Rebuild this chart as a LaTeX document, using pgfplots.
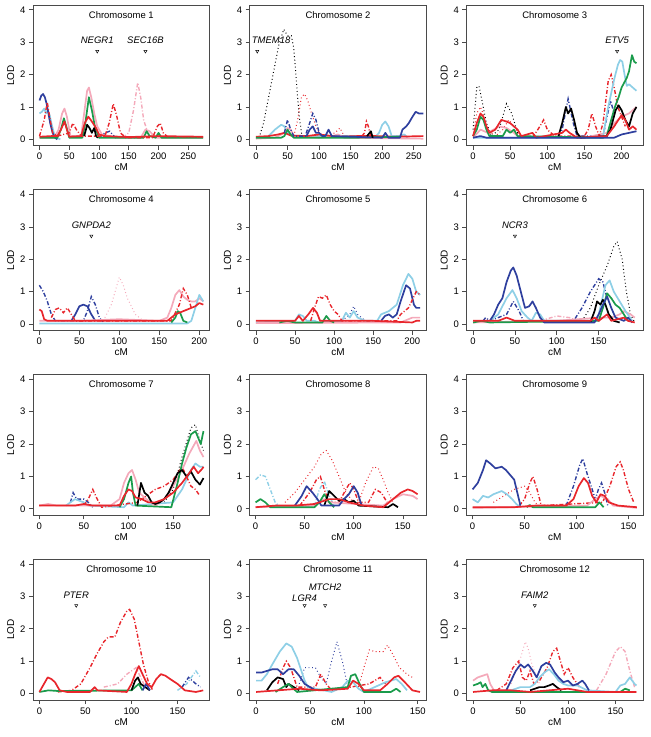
\documentclass[border=0pt]{standalone}
\usepackage{pgfplots}
\pgfplotsset{compat=1.18}
\usepgfplotslibrary{groupplots}
\usepackage{fontspec}
\setmainfont{Liberation Sans}
\definecolor{cdb}{HTML}{2E3F9E}
\definecolor{clb}{HTML}{8ECFE6}
\definecolor{cgr}{HTML}{1A9B4B}
\definecolor{crd}{HTML}{E8262C}
\definecolor{cpk}{HTML}{F4A9BA}
\definecolor{frame}{HTML}{4A4A4A}
\pgfplotsset{
  sol/.style={line width=1.7pt, line join=round},
  dd/.style={line width=1.4pt, dash pattern=on 4pt off 2pt on 1pt off 2pt},
  dt/.style={line width=1pt, dash pattern=on 0.9pt off 2.6pt},
  gene/.style={only marks, mark=triangle, mark size=1.8pt, mark options={rotate=180, black, line width=0.45pt}},
}
\newcommand{\chr}[1]{\node[font=\fontsize{9.5}{10}\selectfont] at (rel axis cs:0.5,0.93) {Chromosome #1};}
\newcommand{\gn}[3]{\node[font=\fontsize{9.5}{10}\selectfont\itshape] at (axis cs:#1,#2) {#3};}
\begin{document}
\begin{tikzpicture}
\begin{groupplot}[
  group style={group size=3 by 4, horizontal sep=40pt, vertical sep=44pt, group name=G},
  width=177pt, height=141pt, scale only axis,
  ymin=-0.2, ymax=4.15, ytick={0,1,2,3,4},
  xtick pos=lower, ytick pos=left, tick align=outside,
  major tick length=4pt,
  axis line style={frame, line width=0.8pt},
  every tick/.style={frame, line width=0.7pt},
  tick label style={font=\fontsize{9.5}{10}\selectfont},
  /pgf/number format/assume math mode=true,
  label style={font=\fontsize{10}{11}\selectfont},
  xlabel={cM}, ylabel={LOD},
  xlabel style={yshift=3pt},
  ylabel style={yshift=-1pt},
]
% ---- Chromosome 1
\nextgroupplot[xmin=-11, xmax=286, xtick={0,50,...,250}]
\chr{1}
\addplot[dd, cpk] coordinates {(140,0.05)(150,0.2)(158,0.9)(165,1.75)(170,1.3)(175,0.6)(182,0.2)(190,0.05)};
\addplot[sol, cpk] coordinates {(0,0.05)(25,0.05)(32,0.3)(38,0.8)(42,0.95)(46,0.7)(52,0.1)(70,0.1)(75,0.8)(80,1.5)(83,1.6)(87,1.3)(92,0.8)(97,0.4)(105,0.15)(130,0.05)(170,0.05)(178,0.3)(185,0.25)(195,0.05)(275,0.05)};
\addplot[sol, clb] coordinates {(0,0.8)(4,0.85)(8,0.95)(11,0.8)(14,0.9)(17,0.75)(20,0.5)(24,0.2)(28,0.05)(35,0)};
\addplot[sol, cdb] coordinates {(0,1.2)(3,1.35)(6,1.4)(9,1.3)(12,1.1)(15,0.8)(18,0.5)(22,0.2)(26,0.05)(30,0)};
\addplot[dd, cdb] coordinates {(100,0.05)(110,0.2)(118,0.25)(125,0.1)(130,0.02)};
\addplot[sol, cgr] coordinates {(0,0.05)(30,0.05)(36,0.3)(41,0.65)(45,0.4)(50,0.05)(72,0.05)(77,0.5)(83,1.3)(88,0.9)(93,0.4)(100,0.05)(175,0.05)(180,0.25)(185,0.1)(195,0.05)(200,0.2)(205,0.05)(275,0.05)};
\addplot[sol, black] coordinates {(75,0.1)(78,0.3)(80,0.45)(84,0.35)(88,0.2)(92,0.35)(95,0.1)(98,0.05)};
\addplot[dd, crd] coordinates {(0,0.1)(8,0.6)(13,1.15)(17,0.7)(22,0.2)(30,0.1)(50,0.2)(56,0.5)(62,0.3)(70,0.1)(110,0.1)(117,0.5)(124,1.1)(130,0.7)(136,0.2)(145,0.05)(190,0.05)(198,0.4)(203,0.5)(208,0.2)(215,0.08)(275,0.08)};
\addplot[sol, crd] coordinates {(0,0.08)(20,0.1)(30,0.1)(36,0.3)(42,0.55)(46,0.3)(50,0.08)(70,0.1)(76,0.5)(82,0.7)(88,0.55)(95,0.35)(100,0.15)(110,0.1)(150,0.07)(200,0.1)(275,0.08)};
\addplot[gene] coordinates {(97,2.72)(178,2.72)};
\gn{97}{3.05}{NEGR1}
\gn{178}{3.05}{SEC16B}
% ---- Chromosome 2
\nextgroupplot[xmin=-10, xmax=270, xtick={0,50,...,250}]
\chr{2}
\addplot[dt, black] coordinates {(5,0.05)(12,0.5)(20,1.3)(28,2.1)(36,2.9)(44,3.4)(50,3.2)(56,3.2)(60,2.8)(64,1.8)(68,0.8)(72,0.2)(78,0.05)};
\addplot[dt, crd] coordinates {(60,0.1)(66,0.6)(72,1.3)(77,1.4)(82,1.2)(88,0.8)(95,0.4)(100,0.2)(110,0.1)(125,0.2)(133,0.35)(140,0.1)};
\addplot[sol, clb] coordinates {(20,0.1)(30,0.3)(40,0.45)(45,0.4)(50,0.2)(60,0.1)(190,0.1)(195,0.2)(200,0.45)(205,0.55)(210,0.4)(215,0.1)(225,0.1)(235,0.15)(240,0.05)};
\addplot[sol, cpk] coordinates {(0,0.02)(30,0.05)(45,0.2)(50,0.35)(55,0.3)(60,0.1)(100,0.05)(120,0.1)(130,0.15)(140,0.05)(265,0.02)};
\addplot[sol, crd] coordinates {(0,0.08)(20,0.1)(35,0.15)(45,0.2)(55,0.12)(80,0.1)(100,0.15)(130,0.08)(160,0.1)(190,0.1)(220,0.08)(265,0.1)};
\addplot[sol, cgr] coordinates {(0,0.05)(40,0.05)(45,0.1)(50,0.3)(55,0.15)(60,0.05)(160,0.05)(230,0.08)};
\addplot[dd, cdb] coordinates {(45,0.2)(50,0.6)(55,0.3)(60,0.1)(78,0.1)(85,0.5)(90,0.8)(95,0.6)(100,0.2)};
\addplot[sol, cdb] coordinates {(80,0.1)(85,0.3)(90,0.4)(95,0.2)(100,0.2)(105,0.1)(110,0.1)(115,0.3)(120,0.1)(200,0.05)(205,0.2)(210,0.05)(228,0.05)(232,0.3)(238,0.4)(242,0.5)(248,0.7)(253,0.85)(258,0.8)(265,0.8)};
\addplot[dd, crd] coordinates {(168,0.1)(172,0.2)(175,0.55)(178,0.4)(182,0.1)};
\addplot[sol, black] coordinates {(176,0.1)(180,0.2)(182,0.25)(185,0.05)};
\addplot[gene] coordinates {(2,2.72)};
\gn{24}{3.05}{TMEM18}
% ---- Chromosome 3
\nextgroupplot[xmin=-9, xmax=229, xtick={0,50,...,200}]
\chr{3}
\addplot[dt, black] coordinates {(0,0.3)(5,1.6)(8,1.65)(12,1.2)(18,0.5)(25,0.1)(35,0.3)(45,1.1)(52,0.8)(60,0.2)(65,0.05)};
\addplot[dt, crd] coordinates {(0,0.1)(5,0.8)(10,1.0)(15,0.7)(20,0.3)(30,0.1)(40,0.3)(48,0.6)(55,0.4)(62,0.1)};
\addplot[dd, cdb] coordinates {(115,0.1)(120,0.3)(128,1.25)(135,0.5)(140,0.1)(175,0.1)(185,1.2)(190,0.8)};
\addplot[sol, cpk] coordinates {(0,0.05)(10,0.3)(20,0.2)(35,0.4)(45,0.35)(55,0.2)(60,0.1)(150,0.05)(180,0.2)(190,0.5)(200,0.7)(210,0.8)(220,1.0)};
\addplot[dd, crd] coordinates {(80,0.05)(90,0.4)(95,0.6)(100,0.3)(110,0.1)(150,0.1)(155,0.3)(160,0.8)(165,0.4)(170,0.1)(175,0.5)(182,1.8)(186,2.0)(190,1.6)(195,1.0)(200,0.7)(205,0.4)};
\addplot[sol, clb] coordinates {(0,0.05)(170,0.05)(175,0.1)(182,1.0)(190,1.85)(195,2.3)(198,2.45)(201,2.4)(204,2.0)(207,1.65)(210,1.7)(215,1.6)(220,1.5)};
\addplot[sol, cgr] coordinates {(0,0.1)(5,0.3)(10,0.7)(14,0.6)(18,0.3)(22,0.1)(40,0.1)(45,0.3)(50,0.2)(55,0.3)(60,0.1)(175,0.05)(180,0.1)(186,0.6)(191,1.0)(196,1.3)(200,1.6)(207,1.9)(210,2.1)(214,2.6)(217,2.4)(220,2.35)};
\addplot[sol, black] coordinates {(115,0.1)(120,0.5)(125,1.0)(128,0.8)(132,0.95)(136,0.6)(140,0.2)(145,0.05)(180,0.1)(185,0.3)(192,0.9)(196,1.05)(200,0.9)(205,0.6)(210,0.4)(215,0.8)(220,1.0)};
\addplot[sol, crd] coordinates {(0,0.1)(5,0.5)(10,0.8)(14,0.7)(18,0.4)(22,0.2)(30,0.3)(38,0.6)(45,0.55)(50,0.5)(55,0.4)(60,0.3)(65,0.1)(80,0.2)(85,0.05)(120,0.2)(125,0.3)(130,0.2)(140,0.05)(180,0.1)(190,0.4)(200,0.75)(205,0.6)(210,0.3)(215,0.4)(220,0.3)};
\addplot[sol, cdb] coordinates {(0,0.05)(10,0.1)(18,0.05)(190,0.05)(200,0.15)(210,0.2)(220,0.25)};
\addplot[gene] coordinates {(194,2.72)};
\gn{194}{3.05}{ETV5}
% ---- Chromosome 4
\nextgroupplot[xmin=-8, xmax=213, xtick={0,50,...,200}]
\chr{4}
\addplot[dt, cpk] coordinates {(80,0.1)(90,0.6)(97,1.2)(100,1.45)(105,1.2)(110,0.8)(120,0.3)(130,0.1)};
\addplot[dd, cdb] coordinates {(0,1.2)(5,1.0)(10,0.7)(15,0.3)(20,0.1)(55,0.1)(60,0.4)(65,0.85)(70,0.6)(75,0.2)(80,0.05)};
\addplot[sol, cdb] coordinates {(40,0.1)(45,0.3)(50,0.55)(55,0.6)(60,0.55)(65,0.3)(70,0.1)};
\addplot[sol, cpk] coordinates {(0,0.1)(50,0.1)(100,0.15)(150,0.1)(160,0.2)(165,0.5)(170,0.9)(175,1.05)(180,0.85)(185,0.75)(190,0.7)(195,0.7)(200,0.8)(205,0.7)};
\addplot[sol, clb] coordinates {(0,0.02)(185,0.02)(190,0.1)(195,0.5)(200,0.9)(205,0.7)};
\addplot[dd, crd] coordinates {(15,0.2)(20,0.45)(25,0.5)(30,0.35)(35,0.5)(40,0.3)(45,0.1)(165,0.1)(175,0.6)(180,1.1)(185,0.9)(190,0.5)};
\addplot[sol, cgr] coordinates {(165,0.05)(170,0.2)(173,0.4)(176,0.35)(180,0.1)(185,0.05)};
\addplot[sol, crd] coordinates {(0,0.45)(3,0.4)(6,0.15)(10,0.1)(160,0.1)(165,0.2)(170,0.3)(175,0.35)(180,0.4)(185,0.45)(190,0.5)(195,0.55)(200,0.65)(205,0.6)};
\addplot[gene] coordinates {(65,2.72)};
\gn{65}{3.05}{GNPDA2}
% ---- Chromosome 5
\nextgroupplot[xmin=-8, xmax=218, xtick={0,50,...,200}]
\chr{5}
\addplot[dt, cdb] coordinates {(110,0.1)(120,0.3)(125,0.55)(130,0.3)(140,0.1)};
\addplot[sol, clb] coordinates {(0,0.05)(50,0.1)(55,0.3)(60,0.25)(65,0.1)(75,0.1)(80,0.05)(110,0.1)(115,0.35)(120,0.2)(125,0.4)(130,0.2)(140,0.1)(155,0.1)(160,0.3)(170,0.4)(180,0.6)(188,1.2)(195,1.55)(200,1.4)(205,1.0)(210,0.9)};
\addplot[sol, cdb] coordinates {(160,0.1)(165,0.25)(170,0.3)(175,0.2)(180,0.3)(185,0.7)(192,1.2)(197,1.1)(202,0.6)(205,0.5)(210,0.5)};
\addplot[dd, crd] coordinates {(70,0.1)(75,0.5)(80,0.85)(85,0.8)(90,0.9)(95,0.6)(100,0.4)(105,0.3)(110,0.1)(180,0.1)(185,0.3)(195,0.5)(205,1.0)(210,0.9)};
\addplot[sol, cpk] coordinates {(0,0.03)(185,0.05)(190,0.1)(200,0.2)(210,0.2)};
\addplot[sol, cgr] coordinates {(30,0.05)(40,0.1)(50,0.05)(85,0.05)(90,0.25)(95,0.1)(100,0.05)};
\addplot[sol, crd] coordinates {(0,0.1)(50,0.1)(55,0.25)(60,0.1)(67,0.3)(73,0.5)(78,0.35)(82,0.1)(100,0.1)(150,0.1)(200,0.05)(205,0.1)(210,0.1)};
% ---- Chromosome 6
\nextgroupplot[xmin=-8, xmax=203, xtick={0,50,...,150}]
\chr{6}
\addplot[dt, black] coordinates {(130,0.1)(140,0.5)(150,1.2)(160,1.8)(168,2.4)(172,2.55)(178,2.0)(183,1.0)(188,0.3)(192,0.1)};
\addplot[dd, cpk] coordinates {(80,0.1)(100,0.25)(115,0.2)(125,0.1)};
\addplot[dd, cdb] coordinates {(12,0.1)(15,0.2)(20,0.1)(40,0.3)(48,0.7)(55,0.4)(60,0.1)(120,0.1)(130,0.5)(140,1.0)(145,1.2)(150,1.4)(155,1.3)(160,0.8)};
\addplot[sol, cpk] coordinates {(0,0.05)(100,0.1)(150,0.2)(165,0.2)(175,0.3)(180,0.4)(188,0.3)(193,0.2)};
\addplot[sol, clb] coordinates {(20,0.1)(30,0.3)(40,0.8)(47,1.05)(52,0.8)(58,0.4)(65,0.2)(70,0.1)(75,0.35)(80,0.3)(85,0.1)(145,0.1)(150,0.3)(158,1.2)(163,1.35)(168,1.0)(175,0.7)(182,0.4)(190,0.1)};
\addplot[sol, cgr] coordinates {(0,0.05)(10,0.1)(20,0.05)(150,0.1)(155,0.5)(160,0.95)(165,0.8)(170,0.6)(175,0.5)(180,0.3)(185,0.1)};
\addplot[sol, black] coordinates {(140,0.05)(145,0.4)(148,0.7)(152,0.6)(155,0.75)(158,0.6)(162,0.3)(168,0.1)(175,0.05)};
\addplot[sol, cdb] coordinates {(20,0.1)(25,0.3)(30,0.6)(35,0.8)(40,1.3)(45,1.65)(48,1.75)(52,1.5)(58,0.9)(62,0.5)(67,0.55)(71,0.7)(75,0.5)(80,0.2)(85,0.05)(145,0.05)(150,0.3)(155,0.6)(160,0.85)(165,0.5)(170,0.2)(180,0.1)(185,0.2)(190,0.05)};
\addplot[sol, crd] coordinates {(0,0.1)(30,0.1)(40,0.2)(50,0.1)(140,0.1)(145,0.2)(150,0.1)(160,0.3)(165,0.1)(180,0.2)(185,0.1)(193,0.05)};
\addplot[gene] coordinates {(50,2.72)};
\gn{50}{3.05}{NCR3}
% ---- Chromosome 7
\nextgroupplot[xmin=-7, xmax=191, xtick={0,50,...,150}]
\chr{7}
\addplot[dt, black] coordinates {(140,0.2)(150,0.6)(160,1.6)(170,2.5)(175,2.6)(180,2.1)(184,1.8)};
\addplot[dd, cdb] coordinates {(35,0.2)(38,0.5)(42,0.3)(50,0.3)(55,0.2)(60,0.05)};
\addplot[sol, clb] coordinates {(30,0.1)(40,0.3)(45,0.25)(50,0.2)(55,0.1)(95,0.05)(100,0.2)(105,0.1)(150,0.2)(160,0.6)(170,1.2)(175,1.4)(180,1.3)(184,1.3)};
\addplot[dd, crd] coordinates {(50,0.1)(55,0.3)(60,0.6)(65,0.3)(70,0.05)(110,0.2)(120,0.4)(130,0.6)(140,0.7)(150,0.9)(155,1.1)(160,1.3)(165,1.0)(170,0.7)(175,0.6)(180,0.4)};
\addplot[sol, cpk] coordinates {(0,0.1)(10,0.15)(20,0.1)(80,0.1)(90,0.3)(95,0.8)(100,1.1)(104,1.2)(108,0.9)(112,0.5)(120,0.3)(130,0.1)(140,0.3)(150,0.7)(160,1.2)(168,1.7)(172,1.9)(176,2.1)(180,1.8)(184,1.6)};
\addplot[sol, cgr] coordinates {(90,0.05)(95,0.3)(100,0.8)(103,1.0)(105,0.5)(108,0.1)(148,0.05)(155,0.8)(160,1.4)(165,1.9)(170,2.3)(175,2.4)(178,2.2)(181,2.0)(184,2.4)};
\addplot[sol, black] coordinates {(110,0.1)(114,0.8)(118,0.5)(122,0.4)(126,0.2)(130,0.15)(135,0.2)(140,0.3)(145,0.5)(150,0.8)(155,1.1)(160,1.2)(165,1.0)(170,1.15)(175,0.9)(180,0.75)(184,0.95)};
\addplot[sol, crd] coordinates {(0,0.1)(40,0.1)(50,0.15)(60,0.1)(90,0.1)(95,0.4)(100,0.6)(104,0.55)(108,0.35)(115,0.3)(122,0.2)(130,0.2)(140,0.3)(150,0.5)(160,0.8)(168,1.1)(173,1.3)(178,1.1)(183,1.25)(184,1.3)};
% ---- Chromosome 8
\nextgroupplot[xmin=-6, xmax=174, xtick={0,50,...,150}]
\chr{8}
\addplot[dt, crd] coordinates {(30,0.2)(40,0.5)(50,0.9)(60,1.3)(67,1.7)(72,1.8)(78,1.5)(85,1.0)(92,0.5)(100,0.2)(105,0.2)(112,0.8)(120,1.3)(125,1.25)(130,0.9)(135,0.5)(140,0.2)};
\addplot[dd, clb] coordinates {(0,0.9)(5,1.05)(10,1.0)(15,0.6)(20,0.2)(25,0.05)(60,0.1)(65,0.6)(70,0.85)(75,0.4)(80,0.1)};
\addplot[dd, crd] coordinates {(45,0.1)(55,0.5)(62,0.9)(66,1.0)(70,0.6)(75,0.2)(85,0.2)(92,0.6)(96,0.8)(100,0.6)(105,0.2)(115,0.2)(122,0.6)(128,0.5)(134,0.2)};
\addplot[sol, cpk] coordinates {(0,0.05)(60,0.1)(70,0.3)(75,0.2)(130,0.1)(140,0.3)(150,0.45)(160,0.4)(165,0.3)};
\addplot[sol, cgr] coordinates {(0,0.2)(5,0.3)(10,0.2)(15,0.05)(60,0.05)(65,0.2)(70,0.45)(75,0.2)(80,0.05)};
\addplot[sol, black] coordinates {(70,0.1)(75,0.55)(80,0.4)(85,0.25)(90,0.3)(95,0.2)(100,0.25)(105,0.1)(135,0.05)(140,0.15)(145,0.05)};
\addplot[sol, cdb] coordinates {(40,0.1)(47,0.4)(52,0.7)(58,0.5)(63,0.3)(67,0.1)(85,0.1)(90,0.3)(95,0.45)(100,0.7)(104,0.5)(108,0.1)};
\addplot[sol, crd] coordinates {(0,0.05)(20,0.1)(40,0.1)(60,0.15)(75,0.3)(85,0.3)(95,0.2)(110,0.1)(130,0.05)(140,0.3)(148,0.5)(155,0.6)(160,0.55)(165,0.45)};
% ---- Chromosome 9
\nextgroupplot[xmin=-6, xmax=164, xtick={0,50,...,150}]
\chr{9}
\addplot[dt, crd] coordinates {(20,0.2)(30,0.4)(40,0.6)(50,0.7)(55,0.5)(60,0.2)(65,0.05)};
\addplot[dd, cdb] coordinates {(90,0.1)(97,0.7)(103,1.35)(106,1.55)(110,1.1)(115,0.6)(118,0.3)(121,0.6)(124,0.8)(127,0.5)(130,0.1)};
\addplot[dd, crd] coordinates {(45,0.1)(50,0.3)(55,0.8)(58,1.0)(62,0.6)(66,0.1)(125,0.2)(132,0.7)(138,1.3)(142,1.45)(145,1.2)(150,0.6)(155,0.2)};
\addplot[sol, clb] coordinates {(0,0.3)(5,0.2)(10,0.4)(15,0.35)(20,0.45)(28,0.55)(33,0.45)(38,0.3)(42,0.15)(46,0.05)};
\addplot[sol, cdb] coordinates {(0,0.6)(5,0.8)(10,1.2)(13,1.5)(17,1.4)(22,1.25)(28,1.3)(32,1.2)(36,1.05)(40,0.9)(43,0.5)(46,0.1)};
\addplot[sol, cpk] coordinates {(0,0.03)(110,0.1)(118,0.3)(123,0.4)(130,0.3)(135,0.1)(158,0.03)};
\addplot[sol, cgr] coordinates {(52,0.05)(55,0.12)(58,0.05)(118,0.05)(122,0.2)(126,0.05)};
\addplot[sol, crd] coordinates {(0,0.05)(40,0.05)(60,0.1)(90,0.1)(97,0.3)(102,0.7)(107,0.95)(111,0.8)(115,0.4)(119,0.2)(123,0.45)(127,0.4)(131,0.2)(140,0.1)(158,0.05)};
% ---- Chromosome 10
\nextgroupplot[xmin=-7, xmax=185, xtick={0,50,...,150}]
\chr{10}
\addplot[dd, crd] coordinates {(20,0.05)(35,0.1)(45,0.3)(55,0.8)(62,1.2)(70,1.6)(75,1.75)(82,1.75)(88,2.2)(95,2.55)(98,2.6)(103,2.3)(108,1.6)(113,0.9)(118,0.4)(123,0.1)};
\addplot[dd, cpk] coordinates {(70,0.2)(85,0.3)(95,0.6)(100,0.7)(105,0.8)(110,0.5)(115,0.2)};
\addplot[dd, clb] coordinates {(150,0.1)(160,0.3)(170,0.7)(175,0.5)};
\addplot[dd, cdb] coordinates {(155,0.2)(162,0.5)(170,0.3)(175,0.2)};
\addplot[sol, cgr] coordinates {(0,0.05)(10,0.1)(20,0.08)(100,0.1)(108,0.3)(112,0.1)};
\addplot[sol, black] coordinates {(100,0.1)(104,0.4)(107,0.5)(110,0.3)(115,0.2)(120,0.1)};
\addplot[sol, cdb] coordinates {(112,0.1)(116,0.3)(120,0.1)};
\addplot[sol, crd] coordinates {(0,0.05)(5,0.3)(9,0.5)(13,0.45)(17,0.35)(22,0.1)(30,0.05)(55,0.05)(60,0.2)(63,0.1)(95,0.05)(100,0.3)(104,0.6)(108,0.85)(112,0.6)(117,0.3)(122,0.2)(127,0.45)(132,0.6)(137,0.55)(142,0.45)(150,0.3)(158,0.1)(170,0.05)(178,0.1)};
\addplot[gene] coordinates {(40,2.72)};
\gn{40}{3.05}{PTER}
% ---- Chromosome 11
\nextgroupplot[xmin=-6, xmax=158, xtick={0,50,...,150}]
\chr{11}
\addplot[dt, cdb] coordinates {(40,0.3)(45,0.8)(55,0.8)(60,0.5)(65,0.3)(70,1.0)(75,1.6)(80,1.0)(85,0.2)};
\addplot[dt, crd] coordinates {(95,0.2)(100,0.8)(105,1.35)(110,1.3)(118,1.3)(122,1.5)(127,1.2)(133,0.8)(140,0.6)(145,0.5)};
\addplot[dd, crd] coordinates {(20,0.3)(25,0.8)(28,1.0)(32,0.8)(38,0.2)(55,0.2)(60,0.6)(65,0.3)(70,0.1)(105,0.3)(115,0.5)(120,0.3)};
\addplot[sol, clb] coordinates {(0,0.4)(5,0.4)(10,0.6)(15,0.9)(22,1.3)(28,1.55)(33,1.45)(38,1.1)(42,0.7)(45,0.4)(48,0.2)(70,0.05)(80,0.2)(85,0.4)(90,0.35)(95,0.15)(100,0.05)(110,0.2)(120,0.35)(130,0.45)(135,0.3)(140,0.1)};
\addplot[sol, cdb] coordinates {(0,0.65)(5,0.65)(10,0.7)(15,0.75)(20,0.75)(25,0.6)(30,0.75)(35,0.75)(40,0.55)(45,0.3)(50,0.2)(55,0.1)};
\addplot[sol, black] coordinates {(10,0.1)(15,0.35)(20,0.5)(25,0.45)(28,0.2)(30,0.3)(35,0.2)(40,0.1)};
\addplot[sol, cgr] coordinates {(18,0.05)(25,0.2)(30,0.3)(33,0.2)(38,0.05)(85,0.2)(88,0.55)(92,0.6)(96,0.3)(100,0.05)(125,0.05)(130,0.15)(134,0.05)};
\addplot[sol, crd] coordinates {(0,0.05)(20,0.1)(40,0.15)(60,0.1)(85,0.15)(90,0.4)(95,0.3)(100,0.1)(115,0.1)(122,0.3)(128,0.5)(132,0.55)(138,0.35)(145,0.1)(152,0.05)};
\addplot[gene] coordinates {(45,2.72)(64,2.72)};
\gn{45}{2.95}{LGR4}
\gn{64}{3.3}{MTCH2}
% ---- Chromosome 12
\nextgroupplot[xmin=-7, xmax=179, xtick={0,50,...,150}]
\chr{12}
\addplot[dt, cpk] coordinates {(40,0.3)(50,1.1)(55,1.6)(58,1.4)(62,0.9)(70,0.3)};
\addplot[dd, cpk] coordinates {(130,0.1)(140,0.6)(150,1.3)(155,1.45)(160,1.3)(165,0.7)(170,0.2)};
\addplot[dd, crd] coordinates {(25,0.1)(35,0.3)(42,0.8)(48,1.0)(52,0.5)(56,0.4)(60,0.7)(64,0.3)(70,0.4)(78,0.8)(84,1.3)(88,1.4)(92,1.0)(96,0.6)(100,0.8)(105,0.5)(112,0.2)};
\addplot[sol, cpk] coordinates {(0,0.4)(5,0.5)(10,0.55)(15,0.6)(18,0.3)(22,0.1)(60,0.05)(172,0.05)};
\addplot[sol, clb] coordinates {(40,0.1)(50,0.2)(60,0.2)(65,0.3)(70,0.5)(75,0.65)(80,0.75)(85,0.6)(90,0.4)(95,0.3)(100,0.25)(110,0.25)(120,0.1)(150,0.05)(155,0.25)(160,0.3)(165,0.5)(170,0.3)(172,0.25)};
\addplot[sol, cgr] coordinates {(0,0.25)(5,0.3)(8,0.35)(10,0.2)(13,0.3)(16,0.1)(20,0.05)(155,0.05)(160,0.15)(165,0.1)};
\addplot[sol, black] coordinates {(60,0.1)(65,0.15)(70,0.2)(75,0.2)(80,0.25)(84,0.3)(88,0.2)(93,0.1)};
\addplot[sol, cdb] coordinates {(35,0.1)(40,0.4)(45,0.7)(50,0.9)(54,0.8)(58,0.9)(63,0.7)(67,0.5)(72,0.85)(77,0.95)(81,0.9)(86,0.65)(90,0.5)(95,0.35)(100,0.4)(105,0.25)(110,0.3)(115,0.4)(118,0.3)(122,0.1)};
\addplot[sol, crd] coordinates {(0,0.05)(20,0.1)(40,0.1)(60,0.05)(80,0.1)(100,0.15)(120,0.05)(172,0.05)};
\addplot[gene] coordinates {(65,2.72)};
\gn{65}{3.05}{FAIM2}
\end{groupplot}
\pgfresetboundingbox
\path (G c1r1.north west) ++(-33pt,5pt) coordinate (BL);
\path (G c3r4.south east) ++(7pt,-37pt) coordinate (TR);
\path (BL) rectangle (TR);
\end{tikzpicture}
\end{document}
